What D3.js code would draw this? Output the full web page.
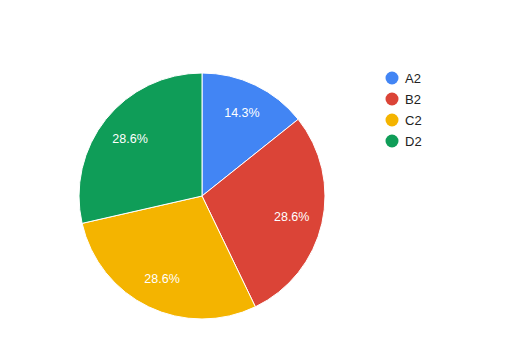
<!DOCTYPE html>
<html><head><meta charset="utf-8">
<script src="https://cdn.jsdelivr.net/npm/d3@7"></script>
<style>body{margin:0;background:#fff}svg{display:block}</style>
</head><body>
<svg id="c" width="518" height="346"></svg>
<script>
const categories = ["A2","B2","C2","D2"];
const values = [1,2,2,2];
const colors = ["#4285f4","#db4437","#f4b400","#0f9d58"];

const svg = d3.select("#c");
const cx = 202, cy = 196, r = 123;
const total = d3.sum(values);
const pie = d3.pie().sort(null).value(d => d)(values);
const arc = d3.arc().innerRadius(0).outerRadius(r);
const labelArc = d3.arc().innerRadius(92).outerRadius(92);
const g = svg.append("g").attr("transform", `translate(${cx},${cy})`);
g.selectAll("path").data(pie).join("path")
  .attr("d", arc).attr("fill", (d,i) => colors[i])
  .attr("stroke", "#fff").attr("stroke-width", 1);
g.selectAll("text").data(pie).join("text")
  .attr("transform", d => `translate(${labelArc.centroid(d)})`)
  .attr("text-anchor", "middle").attr("dy", "0.35em")
  .attr("font-family", "Arial, 'Liberation Sans', sans-serif")
  .attr("font-size", 12.5).attr("fill", "#fff")
  .text(d => (d.value / total * 100).toFixed(1) + "%");

const leg = svg.append("g").attr("transform", "translate(392,78)");
const items = leg.selectAll("g").data(categories).join("g")
  .attr("transform", (d,i) => `translate(0,${i*21})`);
items.append("circle").attr("r", 6.5).attr("fill", (d,i) => colors[i]);
items.append("text").attr("x", 13).attr("dy", "0.35em")
  .attr("font-family", "Arial, 'Liberation Sans', sans-serif")
  .attr("font-size", 13).attr("fill", "#222").text(d => d);
</script>
</body></html>
